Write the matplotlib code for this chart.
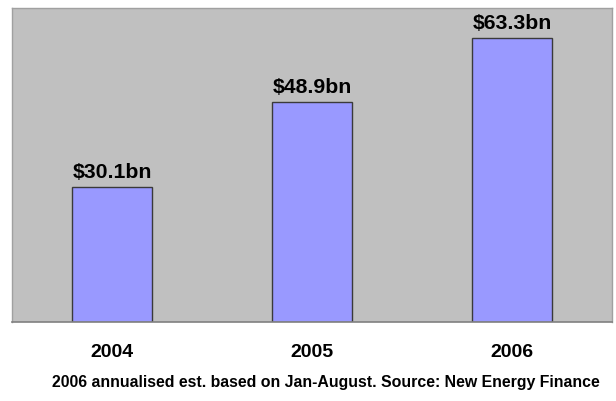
import matplotlib
matplotlib.use('Agg')
import matplotlib.pyplot as plt

plt.rcParams['font.family'] = ['Liberation Sans', 'DejaVu Sans']

years = ['2004', '2005', '2006']
investment_bn = [30.1, 48.9, 63.3]
value_labels = ['$30.1bn', '$48.9bn', '$63.3bn']
footnote = '2006 annualised est. based on Jan-August. Source: New Energy Finance'

W, H = 616, 401
fig = plt.figure(figsize=(W / 100, H / 100), dpi=100)
ax = fig.add_axes([12 / W, (H - 322) / H, 600 / W, 314.5 / H])
ax.set_facecolor('#c0c0c0')

x = range(len(years))
bars = ax.bar(x, investment_bn, width=0.4, color='#9999ff',
              edgecolor='#3a3a3a', linewidth=1.0, zorder=2)

# value label above each bar
for bar, val, lab in zip(bars, investment_bn, value_labels):
    ax.annotate(lab, (bar.get_x() + bar.get_width() / 2, val),
                xytext=(0, 6.5), textcoords='offset points',
                ha='center', va='baseline', fontsize=15.3, fontweight='bold')

ax.set_xlim(-0.5, 2.5)
ax.set_ylim(0, 70)
ax.set_xticks(list(x))
ax.set_xticklabels(years, fontsize=14, fontweight='bold')
ax.tick_params(axis='x', length=0, pad=16)
ax.set_yticks([])

for side in ['top', 'right', 'left']:
    ax.spines[side].set_color('#a0a0a0')
    ax.spines[side].set_linewidth(1.0)
ax.spines['bottom'].set_color('#808080')
ax.spines['bottom'].set_linewidth(1.2)

fig.text(326 / W, 1 - 387 / H, footnote, ha='center', va='baseline',
         fontsize=11.4, fontweight='bold')

fig.savefig('out.png', dpi=100)
